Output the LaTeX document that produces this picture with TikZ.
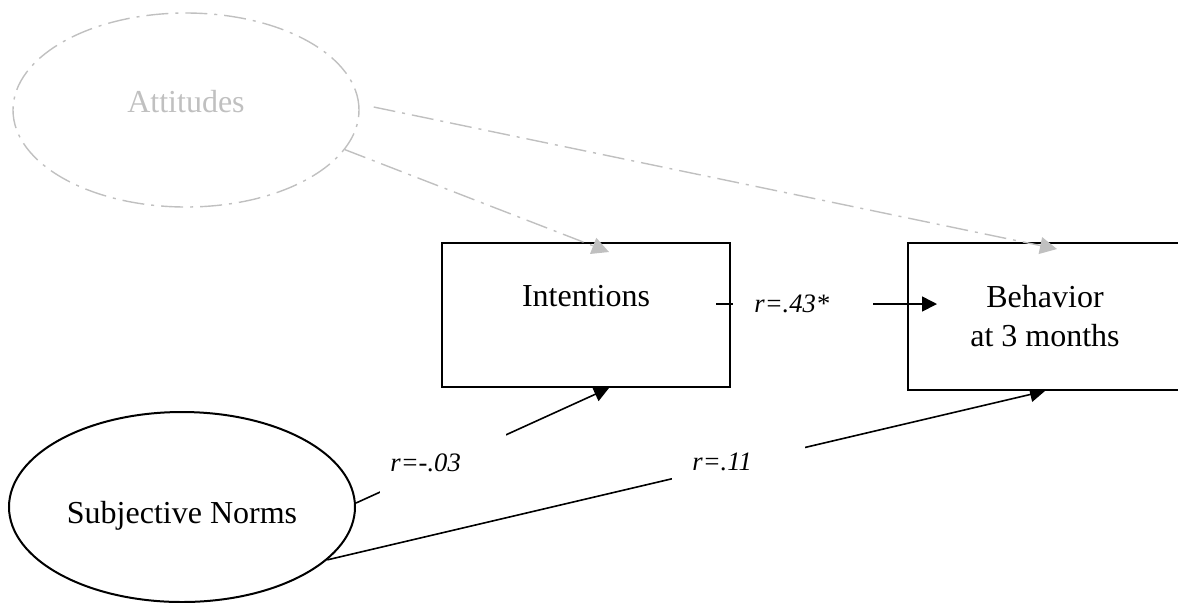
\documentclass[tikz,border=0pt]{standalone}
\usepackage{fontspec}
\setmainfont{Liberation Serif}
\usetikzlibrary{arrows.meta,shapes.geometric,backgrounds}
\definecolor{attGray}{RGB}{192,192,192}

\begin{document}
\begin{tikzpicture}[x=0.5pt, y=-0.5pt,
    construct/.style={ellipse, draw, line width=1pt, inner sep=0pt,
        minimum width=173pt, minimum height=95pt,
        font=\fontsize{16pt}{19.5pt}\selectfont},
    latent/.style={construct, draw=attGray, text=attGray, line width=0.7pt,
        dash pattern=on 11pt off 3.5pt on 1.5pt off 3.5pt},
    measure/.style={rectangle, draw, fill=white, line width=1pt, align=center,
        minimum width=144pt, minimum height=72pt,
        font=\fontsize{16pt}{19.5pt}\selectfont},
    effect/.style={-{Triangle[length=7.5pt, width=7.5pt]}, line width=0.8pt},
    faint/.style={-{Triangle[length=8.5pt, width=8.5pt]}, attGray, line width=0.7pt,
        dash pattern=on 11pt off 3.5pt on 1.5pt off 3.5pt},
    coef/.style={fill=white, anchor=west, align=left, inner ysep=0pt,
        font=\fontsize{13.3pt}{16pt}\selectfont\itshape}
  ]
  \useasboundingbox (0,0) rectangle (1178,602);
  \clip (0,0) rectangle (1178,602);

  % constructs
  \node[latent, minimum height=97pt, text depth=9pt] (att) at (186,110) {Attitudes};
  \node[construct, text height=19.5pt] (sn) at (182,507) {Subjective Norms};
  \node[measure] (int) at (586,315) {Intentions\\ \mbox{}};
  \node[measure, minimum width=137pt, minimum height=73.5pt] (beh) at (1045,316.5) {Behavior\\at 3 months};

  % paths from subjective norms, tips run in under the boxes
  \begin{scope}[on background layer]
    \draw[effect] ([yshift=2pt]sn.east) -- ([xshift=11.5pt]int.south);
    \draw[effect] (sn.-20) -- (beh.south);
  \end{scope}

  % paths from attitudes
  \draw[faint] (att.-14) -- ([xshift=11.5pt, yshift=-5pt]int.north);
  \draw[faint] ([xshift=7pt, yshift=1.5pt]att.east) -- ([xshift=6pt, yshift=-3.5pt]beh.north);
  \draw[effect] ([xshift=-7.5pt, yshift=5.5pt]int.east) -- ([xshift=15pt, yshift=6.25pt]beh.west);

  % correlations
  \node[coef, text width=49pt, inner xsep=10.5pt] (r43) at (733,304) {r=.43*};
  \node[coef, text width=53pt, inner xsep=5pt, minimum height=32pt] (r03) at (380,463) {r=-.03};
  \node[coef, text width=46.5pt, inner xsep=10pt, minimum height=20pt] (r11) at (672,462) {r=.11};
\end{tikzpicture}
\end{document}
